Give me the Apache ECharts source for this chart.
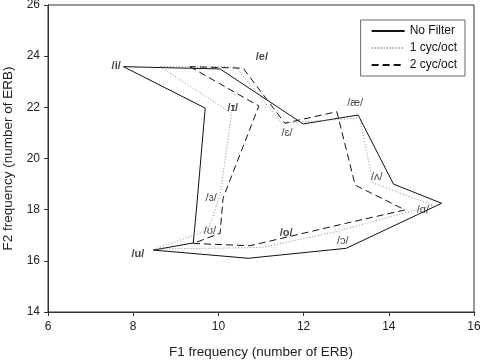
<!DOCTYPE html>
<html>
<head>
<meta charset="utf-8">
<script src="https://cdn.jsdelivr.net/npm/echarts@6/dist/echarts.min.js"></script>
<style>
  html, body { margin: 0; padding: 0; background: #fff; }
  #vowel-space-chart { width: 480px; height: 362px; }
</style>
</head>
<body>
<div id="vowel-space-chart"></div>
<script>
// vowel order round the polygon: i ɪ ɜ ʊ u o ɔ ɑ ʌ æ ɛ e
var vowels = ['i', 'ɪ', 'ɜ', 'ʊ', 'u', 'o', 'ɔ', 'ɑ', 'ʌ', 'æ', 'ɛ', 'e'];

var noFilterF1 = [7.77, 9.69, 9.50, 9.41, 8.47, 10.70, 13.00, 15.24, 14.11, 13.28, 11.99, 10.04];
var noFilterF2 = [23.59, 21.97, 18.30, 16.70, 16.42, 16.10, 16.49, 18.25, 19.00, 21.70, 21.35, 23.50];

var oneCycF1 = [8.63, 10.31, 10.04, 9.76, 8.51, 11.02, 12.74, 15.04, 13.63, 13.32, 11.49, 10.41];
var oneCycF2 = [23.59, 21.77, 18.57, 17.20, 16.46, 16.52, 17.13, 18.18, 19.04, 21.58, 21.38, 23.58];

var twoCycF1 = [9.33, 10.95, 10.11, 10.04, 9.41, 10.74, 13.00, 14.38, 13.21, 12.78, 11.56, 10.58];
var twoCycF2 = [23.59, 22.05, 18.46, 17.08, 16.68, 16.59, 17.47, 17.99, 18.96, 21.83, 21.38, 23.53];

// vowel labels (placed in ERB units)
var labelText = ['/i/', '/e/', '/ɪ/', '/ɛ/', '/æ/', '/ʌ/', '/ɑ/', '/ɔ/', '/o/', '/ʊ/', '/ɜ/', '/u/'];
var labelF1 = [7.60, 11.02, 10.34, 11.61, 13.21, 13.72, 14.80, 12.92, 11.59, 9.80, 9.83, 8.11];
var labelF2 = [23.62, 23.97, 21.97, 21.00, 22.17, 19.28, 17.99, 16.77, 17.09, 17.16, 18.45, 16.27];
var boldLabels = ['/i/', '/ɪ/', '/u/', '/e/', '/o/'];

var xTicks = { min: 6, max: 16, interval: 2 };
var yTicks = { min: 14, max: 26, interval: 2 };

function closedLoop(f1, f2) {
    var pts = [];
    for (var i = 0; i < f1.length; i++) {
        pts.push([f1[i], f2[i]]);
    }
    pts.push([f1[0], f2[0]]);
    return pts;
}

var labelData = [];
for (var k = 0; k < labelText.length; k++) {
    labelData.push({
        name: labelText[k],
        value: [labelF1[k], labelF2[k]],
        label: { fontWeight: boldLabels.indexOf(labelText[k]) >= 0 ? 'bold' : 'normal' }
    });
}

var myChart = echarts.init(document.getElementById('vowel-space-chart'), null, { renderer: 'canvas' });

var axisFont = { fontFamily: 'Liberation Sans', fontSize: 12, color: '#222' };

var option = {
    animation: false,
    grid: {
        left: 48, right: 6, top: 5, bottom: 50,
        outerBoundsMode: 'none',
        show: true, borderColor: '#333', borderWidth: 1
    },
    legend: {
        data: ['No Filter', '1 cyc/oct', '2 cyc/oct'],
        orient: 'vertical',
        right: 15, top: 20,
        itemWidth: 33, itemHeight: 12, itemGap: 5,
        padding: [5, 8, 5, 10],
        borderColor: '#666', borderWidth: 1,
        backgroundColor: '#fff',
        textStyle: { fontFamily: 'Liberation Sans', fontSize: 12, color: '#111' }
    },
    xAxis: {
        type: 'value',
        min: xTicks.min, max: xTicks.max, interval: xTicks.interval,
        name: 'F1 frequency (number of ERB)',
        nameLocation: 'middle', nameGap: 33,
        nameTextStyle: { fontFamily: 'Liberation Sans', fontSize: 13.5, color: '#222' },
        axisLine: { lineStyle: { color: '#333' } },
        axisTick: { length: 4, lineStyle: { color: '#333' } },
        axisLabel: { fontFamily: 'Liberation Sans', fontSize: 12, color: '#222', margin: 9 },
        splitLine: { show: false }
    },
    yAxis: {
        type: 'value',
        min: yTicks.min, max: yTicks.max, interval: yTicks.interval,
        name: 'F2 frequency (number of ERB)',
        nameLocation: 'middle', nameGap: 31,
        nameTextStyle: { fontFamily: 'Liberation Sans', fontSize: 13.5, color: '#222' },
        axisLine: { show: true, lineStyle: { color: '#333' } },
        axisTick: { show: true, length: 4, lineStyle: { color: '#333' } },
        axisLabel: axisFont,
        splitLine: { show: false }
    },
    series: [
        {
            name: 'No Filter', type: 'line', symbol: 'none',
            data: closedLoop(noFilterF1, noFilterF2),
            lineStyle: { color: '#111', width: 1, type: 'solid' },
            itemStyle: { color: 'transparent' }
        },
        {
            name: '1 cyc/oct', type: 'line', symbol: 'none',
            data: closedLoop(oneCycF1, oneCycF2),
            lineStyle: { color: '#888', width: 1, type: [1, 2] },
            itemStyle: { color: 'transparent' }
        },
        {
            name: '2 cyc/oct', type: 'line', symbol: 'none',
            data: closedLoop(twoCycF1, twoCycF2),
            lineStyle: { color: '#111', width: 1, type: [7, 4] },
            itemStyle: { color: 'transparent' }
        },
        {
            name: 'labels', type: 'scatter', symbolSize: 0,
            data: labelData,
            silent: true,
            label: {
                show: true, position: 'inside',
                formatter: function (p) { return p.name; },
                fontFamily: 'Liberation Sans', fontSize: 11, color: '#111'
            }
        }
    ]
};

if (option && typeof option === 'object') {
    myChart.setOption(option);
}
window.addEventListener('resize', myChart.resize);
</script>
</body>
</html>
